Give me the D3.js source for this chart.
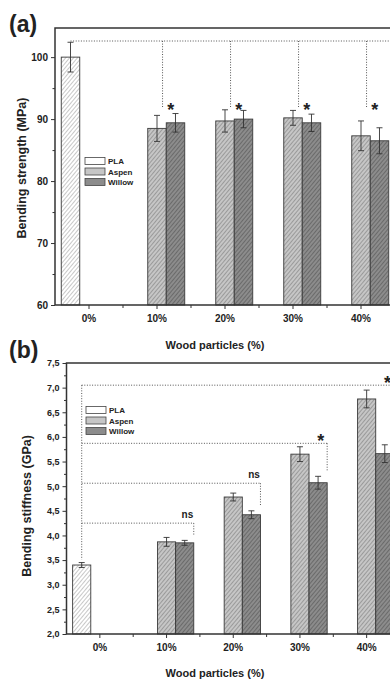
<!DOCTYPE html>
<html>
<head>
<meta charset="utf-8">
<script src="https://cdn.jsdelivr.net/npm/d3@7"></script>
<style>
  body { margin: 0; background: #fff; }
  svg { display: block; font-family: "Liberation Sans", Arial, sans-serif; }
</style>
</head>
<body>
<div id="chart"></div>
<script>
var svgWidth = 390;
var svgHeight = 679;

// categories and series
var categories = ["0%", "10%", "20%", "30%", "40%"];
var seriesNames = ["PLA", "Aspen", "Willow"];

// (a) bending strength, MPa
var plaStrength = 100.0;
var plaStrengthErr = 2.4;
var aspenStrength = [88.5, 89.7, 90.2, 87.3];
var aspenStrengthErr = [2.1, 1.8, 1.2, 2.4];
var willowStrength = [89.4, 90.0, 89.4, 86.5];
var willowStrengthErr = [1.5, 1.4, 1.4, 2.1];
var strengthSig = ["*", "*", "*", "*"];
var strengthTicks = [60, 70, 80, 90, 100];

// (b) bending stiffness, GPa
var plaStiffness = 3.40;
var plaStiffnessErr = 0.05;
var aspenStiffness = [3.87, 4.78, 5.65, 6.77];
var aspenStiffnessErr = [0.09, 0.08, 0.15, 0.18];
var willowStiffness = [3.85, 4.42, 5.07, 5.66];
var willowStiffnessErr = [0.05, 0.08, 0.13, 0.18];
var stiffnessSig = ["ns", "ns", "*", "*"];
var stiffnessBracket = [4.25, 5.06, 5.87, 7.05];
var stiffnessTicks = [2.0, 2.5, 3.0, 3.5, 4.0, 4.5, 5.0, 5.5, 6.0, 6.5, 7.0, 7.5];

var fills = { PLA: "#ffffff", Aspen: "#c6c6c6", Willow: "#8c8c8c" };
var hatch = { PLA: "#c8c8c8", Aspen: "#9a9a9a", Willow: "#6a6a6a" };

var svg = d3.select("#chart")
  .append("svg")
  .attr("width", svgWidth)
  .attr("height", svgHeight);

// hatch patterns for bars
var defs = svg.append("defs");
seriesNames.forEach(function(s) {
  var p = defs.append("pattern")
    .attr("id", "hatch-" + s)
    .attr("patternUnits", "userSpaceOnUse")
    .attr("width", 3)
    .attr("height", 3)
    .attr("patternTransform", "rotate(40)");
  p.append("rect").attr("width", 3).attr("height", 3).attr("fill", fills[s]);
  p.append("line")
    .attr("x1", 0.5).attr("y1", 0).attr("x2", 0.5).attr("y2", 3)
    .attr("stroke", hatch[s]).attr("stroke-width", 1);
});

function buildRows(pla, plaErr, aspen, aspenErr, willow, willowErr) {
  var rows = [{ cat: categories[0], series: "PLA", offset: -1, value: pla, err: plaErr }];
  categories.slice(1).forEach(function(c, i) {
    rows.push({ cat: c, series: "Aspen", offset: 0, value: aspen[i], err: aspenErr[i] });
    rows.push({ cat: c, series: "Willow", offset: 1, value: willow[i], err: willowErr[i] });
  });
  return rows;
}

function drawPanel(cfg) {
  var g = svg.append("g");

  var x = d3.scaleBand()
    .domain(categories)
    .range([cfg.left, cfg.right])
    .padding(0);
  var bw = x.bandwidth() * 0.272;
  var cx = function(c) { return x(c) + x.bandwidth() / 2; };

  var y = d3.scaleLinear()
    .domain(cfg.domain)
    .range([cfg.bottom, cfg.top]);

  // bars
  g.selectAll("rect.bar")
    .data(cfg.rows)
    .enter()
    .append("rect")
    .attr("class", "bar")
    .attr("x", d => cx(d.cat) + (d.offset - 0.5) * bw)
    .attr("y", d => y(d.value))
    .attr("width", bw)
    .attr("height", d => y(cfg.domain[0]) - y(d.value))
    .attr("fill", d => "url(#hatch-" + d.series + ")")
    .attr("stroke", "#3a3a3a")
    .attr("stroke-width", 0.9);

  // error bars
  var eb = g.selectAll("g.err")
    .data(cfg.rows)
    .enter()
    .append("g")
    .attr("stroke", "#333")
    .attr("stroke-width", 0.9);
  eb.append("line")
    .attr("x1", d => cx(d.cat) + d.offset * bw)
    .attr("x2", d => cx(d.cat) + d.offset * bw)
    .attr("y1", d => y(d.value + d.err))
    .attr("y2", d => y(d.value - d.err));
  [1, -1].forEach(function(sgn) {
    eb.append("line")
      .attr("x1", d => cx(d.cat) + d.offset * bw - 3)
      .attr("x2", d => cx(d.cat) + d.offset * bw + 3)
      .attr("y1", d => y(d.value + sgn * d.err))
      .attr("y2", d => y(d.value + sgn * d.err));
  });

  // significance brackets
  var dotted = g.append("g")
    .attr("fill", "none")
    .attr("stroke", "#555")
    .attr("stroke-width", 1)
    .attr("stroke-dasharray", "1,1.6");
  cfg.brackets(dotted, g, x, cx, y, bw);

  // y axis with minor ticks
  var leftAxis = d3.axisLeft(y)
    .tickValues(cfg.ticks)
    .tickSize(4)
    .tickPadding(3)
    .tickFormat(cfg.format);
  var yAxis = g.append("g")
    .attr("transform", `translate(${cfg.left}, 0)`)
    .call(leftAxis);
  yAxis.select(".domain").remove();
  yAxis.selectAll("line").attr("stroke", "#333");
  yAxis.selectAll("text")
    .attr("font-size", cfg.tickFont)
    .attr("font-weight", "bold")
    .attr("fill", "#222");

  var minorY = d3.axisLeft(y).tickValues(cfg.minor).tickSize(2.5).tickFormat("");
  g.append("g")
    .attr("transform", `translate(${cfg.left}, 0)`)
    .call(minorY)
    .call(a => a.select(".domain").remove())
    .selectAll("line").attr("stroke", "#333");

  // x axis
  var bottomAxis = d3.axisBottom(x).tickSize(4).tickPadding(6);
  var xAxis = g.append("g")
    .attr("transform", `translate(0, ${cfg.bottom})`)
    .call(bottomAxis);
  xAxis.select(".domain").remove();
  xAxis.selectAll("line").attr("stroke", "#333");
  xAxis.selectAll("text")
    .attr("font-size", 10)
    .attr("font-weight", "bold")
    .attr("fill", "#222");
  // minor ticks between categories
  g.selectAll("line.xminor")
    .data(categories)
    .enter()
    .append("line")
    .attr("x1", d => x(d) + x.bandwidth())
    .attr("x2", d => x(d) + x.bandwidth())
    .attr("y1", cfg.bottom)
    .attr("y2", cfg.bottom + 3)
    .attr("stroke", "#333");

  // frame lines
  g.append("path")
    .attr("d", `M${cfg.right},${cfg.top}H${cfg.left}V${cfg.bottom}H${cfg.right}`)
    .attr("fill", "none")
    .attr("stroke", "#333")
    .attr("stroke-width", 1.5);

  // legend
  var leg = g.append("g")
    .attr("transform", `translate(${cfg.legendX}, ${cfg.legendY})`);
  seriesNames.forEach(function(s, i) {
    leg.append("rect")
      .attr("x", 0)
      .attr("y", i * 10.5 - 3.5)
      .attr("width", 20)
      .attr("height", 7)
      .attr("fill", fills[s])
      .attr("stroke", "#444")
      .attr("stroke-width", 0.8);
    leg.append("text")
      .attr("x", 23)
      .attr("y", i * 10.5 + 3)
      .attr("font-size", 8)
      .attr("font-weight", "bold")
      .attr("fill", "#222")
      .text(s);
  });

  // axis titles
  g.append("text")
    .attr("transform", `translate(${cfg.yTitleX}, ${cfg.yTitleY}) rotate(-90)`)
    .attr("text-anchor", "middle")
    .attr("font-size", 12.5)
    .attr("font-weight", "bold")
    .attr("fill", "#222")
    .text(cfg.yTitle);
  g.append("text")
    .attr("x", 215)
    .attr("y", cfg.xTitleY)
    .attr("text-anchor", "middle")
    .attr("font-size", 11)
    .attr("font-weight", "bold")
    .attr("fill", "#222")
    .text("Wood particles (%)");

  // panel letter
  g.append("text")
    .attr("x", 9)
    .attr("y", cfg.letterY)
    .attr("font-size", 23)
    .attr("font-weight", "bold")
    .attr("fill", "#222")
    .text(cfg.letter);
}

// (a) bending strength
drawPanel({
  rows: buildRows(plaStrength, plaStrengthErr, aspenStrength, aspenStrengthErr, willowStrength, willowStrengthErr),
  left: 55, right: 395, top: 28, bottom: 305,
  domain: [60, 104.7],
  ticks: strengthTicks,
  minor: [65, 75, 85, 95],
  format: d3.format("d"),
  tickFont: 10,
  legendX: 85, legendY: 161,
  yTitle: "Bending strength (MPa)", yTitleX: 26, yTitleY: 168,
  xTitleY: 349,
  letter: "(a)", letterY: 32,
  brackets: function(dotted, g, x, cx, y, bw) {
    var top = 102.6;
    var drop = 91.8;
    dotted.append("line")
      .attr("x1", cx(categories[0]) - bw)
      .attr("x2", svgWidth)
      .attr("y1", y(top))
      .attr("y2", y(top));
    categories.slice(1).forEach(function(c, i) {
      dotted.append("line")
        .attr("x1", cx(c) + 0.3 * bw)
        .attr("x2", cx(c) + 0.3 * bw)
        .attr("y1", y(top))
        .attr("y2", y(drop));
      g.append("text")
        .attr("x", cx(c) + 0.75 * bw)
        .attr("y", y(drop) + 8)
        .attr("text-anchor", "middle")
        .attr("font-size", 18)
        .attr("font-weight", "bold")
        .attr("fill", "#222")
        .text(strengthSig[i]);
    });
  }
});

// (b) bending stiffness
drawPanel({
  rows: buildRows(plaStiffness, plaStiffnessErr, aspenStiffness, aspenStiffnessErr, willowStiffness, willowStiffnessErr),
  left: 66.5, right: 400, top: 363, bottom: 634,
  domain: [2, 7.5],
  ticks: stiffnessTicks,
  minor: d3.range(2.25, 7.5, 0.5),
  format: d => d3.format(".1f")(d).replace(".", ","),
  tickFont: 9,
  legendX: 86, legendY: 410,
  yTitle: "Bending stiffness (GPa)", yTitleX: 31, yTitleY: 506,
  xTitleY: 677,
  letter: "(b)", letterY: 358,
  brackets: function(dotted, g, x, cx, y, bw) {
    var px = cx(categories[0]) - bw;
    dotted.append("line")
      .attr("x1", px).attr("x2", px)
      .attr("y1", y(stiffnessBracket[3]))
      .attr("y2", y(plaStiffness + plaStiffnessErr) - 3);
    categories.slice(1).forEach(function(c, i) {
      var ex = cx(c) + 1.5 * bw;
      var ly = y(stiffnessBracket[i]);
      dotted.append("line")
        .attr("x1", px).attr("x2", Math.min(ex, svgWidth))
        .attr("y1", ly).attr("y2", ly);
      dotted.append("line")
        .attr("x1", ex).attr("x2", ex)
        .attr("y1", ly)
        .attr("y2", y(willowStiffness[i] + willowStiffnessErr[i]) - 5);
      var isStar = stiffnessSig[i] === "*";
      g.append("text")
        .attr("x", cx(c) + 1.15 * bw)
        .attr("y", isStar ? ly + 4 : ly - 5)
        .attr("text-anchor", "middle")
        .attr("font-size", isStar ? 18 : 10)
        .attr("font-weight", "bold")
        .attr("fill", "#222")
        .text(stiffnessSig[i]);
    });
  }
});
</script>
</body>
</html>
